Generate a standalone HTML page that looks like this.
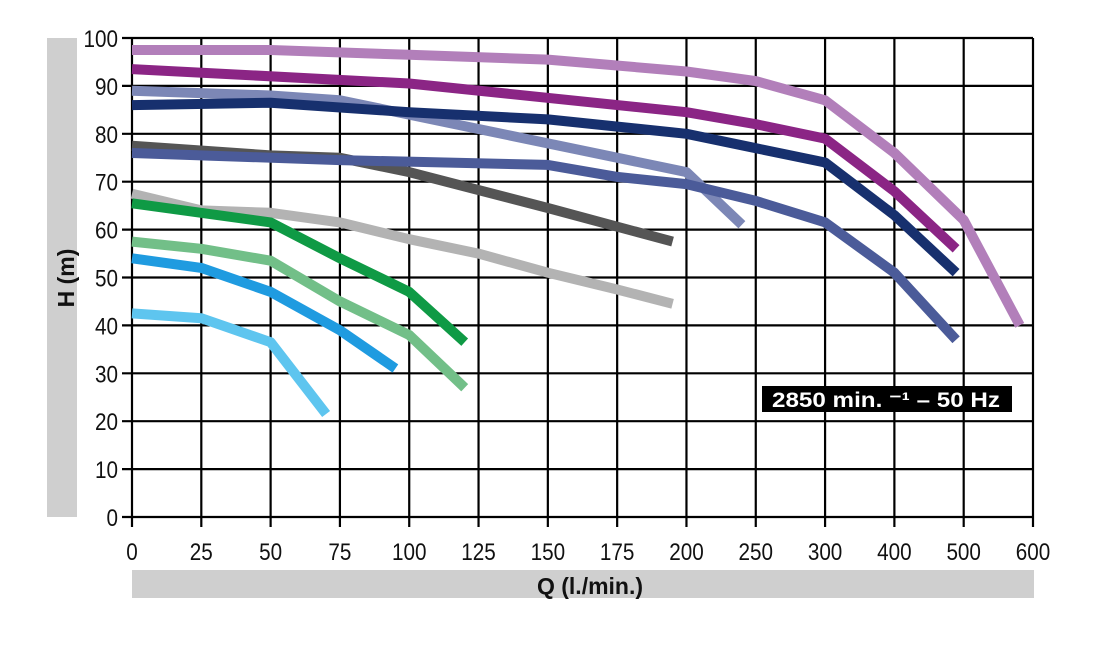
<!DOCTYPE html>
<html><head><meta charset="utf-8"><style>
html,body{margin:0;padding:0;background:#fff;}
svg{display:block;font-family:"Liberation Sans",sans-serif;}
</style></head><body>
<svg id="chart" width="1110" height="646" viewBox="0 0 1110 646">
<rect x="47" y="38" width="30" height="479" fill="#cfcfcf"/>
<text x="0" y="0" transform="translate(74,278) rotate(-90)" text-anchor="middle" font-size="23" font-weight="bold" fill="#111">H (m)</text>
<rect x="132" y="570" width="902" height="28" fill="#cfcfcf"/>
<text x="590" y="594" text-anchor="middle" font-size="23" font-weight="bold" fill="#111">Q (l./min.)</text>
<g id="grid"></g>
<g id="series"></g>
<g>
<rect x="762" y="386" width="250" height="26" fill="#000"/>
<text x="772" y="407" font-size="21" font-weight="bold" fill="#fff" textLength="228" lengthAdjust="spacingAndGlyphs">2850 min. ⁻¹ –  50 Hz</text>
</g>
</svg>
<script>
const xTicks=[0,25,50,75,100,125,150,175,200,250,300,400,500,600];
const yTicks=[0,10,20,30,40,50,60,70,80,90,100];
const seriesNames=['curve-1','curve-2','curve-3','curve-4','curve-5','curve-6','curve-7','curve-8','curve-9','curve-10','curve-11'];
const seriesColors=['#b27fba','#8b2585','#7c87b6','#17306e','#555555','#4b5b99','#b3b3b3','#0f9a45','#72bf88','#1f9be0','#5ec5ef'];
const q1=[0,25,50,100,150,200,250,300,400,500,581], h1=[97.5,97.5,97.5,96.5,95.5,93,91,87,76,62,40];
const q2=[0,100,200,250,300,400,489], h2=[93.5,90.5,84.5,82,79,68,56];
const q3=[0,50,75,125,200,240], h3=[89,88,87,81,72,61];
const q4=[0,50,100,150,200,250,300,400,489], h4=[86,86.5,84.5,83,80,77,74,63,51];
const q5=[0,50,75,100,150,195], h5=[77.5,75.5,75,72,64.5,57.5];
const q6=[0,75,150,175,200,250,300,400,489], h6=[76,74.5,73.5,71,69.5,66,61.5,51,37];
const q7=[0,25,50,75,100,125,150,175,195], h7=[67.5,64,63.5,61.5,58,55,51,47.5,44.5];
const q8=[0,50,75,100,120], h8=[65.5,61.5,54,47,36.5];
const q9=[0,25,50,75,100,120], h9=[57.5,56,53.5,45,38,27];
const q10=[0,25,50,75,95], h10=[54,52,47,39,31];
const q11=[0,25,50,70], h11=[42.5,41.5,36.5,21.5];
const allQ=[q1,q2,q3,q4,q5,q6,q7,q8,q9,q10,q11];
const allH=[h1,h2,h3,h4,h5,h6,h7,h8,h9,h10,h11];
const X0=132,X1=1033,Y0=517,Y1=38;
function xs(q){const n=xTicks.length-1,step=(X1-X0)/n;
 for(let i=0;i<n;i++){if(q<=xTicks[i+1]||i===n-1){return X0+step*(i+(q-xTicks[i])/(xTicks[i+1]-xTicks[i]));}}}
function ys(h){return Y0+(Y1-Y0)*(h-yTicks[0])/(yTicks[yTicks.length-1]-yTicks[0]);}
const NS='http://www.w3.org/2000/svg';
const grid=document.getElementById('grid');
function mk(t,a,p){const e=document.createElementNS(NS,t);for(const k in a)e.setAttribute(k,a[k]);p.appendChild(e);return e;}
yTicks.forEach(v=>{const y=ys(v);
 const l=mk('line',{x1:122,x2:X1,y1:y,y2:y,stroke:'#000','stroke-width':2.2},grid);
 
 
 const t=mk('text',{x:118,y:y+9,'text-anchor':'end','font-size':24,fill:'#111',textLength:String(v).length*11.5,lengthAdjust:'spacingAndGlyphs'},grid);
 t.textContent=v;
 
 
});
xTicks.forEach(v=>{const x=xs(v);
 const l=mk('line',{x1:x,x2:x,y1:Y1,y2:527,stroke:'#000','stroke-width':2.2},grid);
 
 
 const t=mk('text',{x:x,y:560,'text-anchor':'middle','font-size':24,fill:'#111',textLength:String(v).length*11.5,lengthAdjust:'spacingAndGlyphs'},grid);
 t.textContent=v;
 
 
});
const sg=document.getElementById('series');
allQ.forEach((qs,i)=>{const pts=qs.map((q,j)=>xs(q).toFixed(1)+','+ys(allH[i][j]).toFixed(1)).join(' ');
 const p=mk('polyline',{points:pts,fill:'none',stroke:seriesColors[i],'stroke-width':10,'stroke-linejoin':'round','stroke-linecap':'butt'},sg);
 
 
});
</script>
</body></html>
